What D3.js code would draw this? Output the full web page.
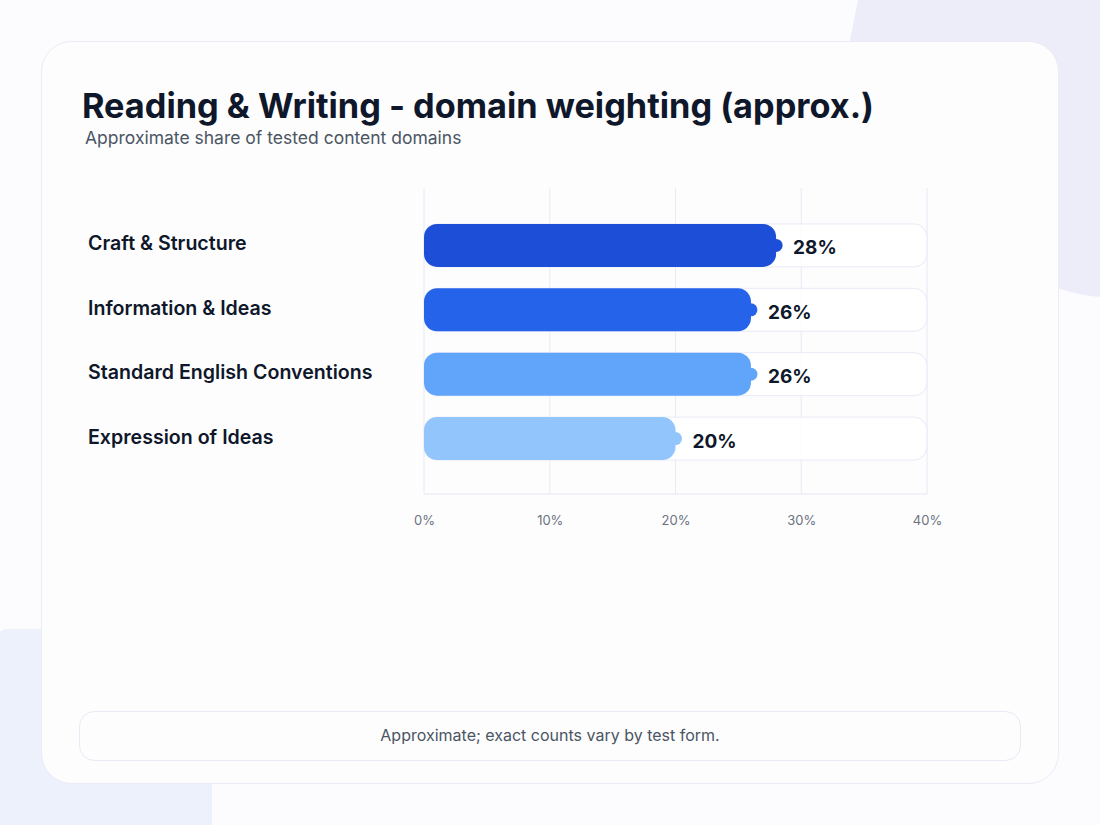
<!DOCTYPE html>
<html><head><meta charset="utf-8">
<script src="https://cdn.jsdelivr.net/npm/d3@7/dist/d3.min.js"></script>
<style>html,body{margin:0;padding:0;background:#fcfcfe;}svg{display:block;font-family:Inter,"Noto Sans",sans-serif;}</style>
</head><body>
<svg id="c" width="1100" height="825"></svg>
<script>
const categories = ["Craft & Structure","Information & Ideas","Standard English Conventions","Expression of Ideas"];
const values = [28, 26, 26, 20];
const colors = ["#1d4ed8","#2563eb","#60a5fa","#93c5fd"];
const tickValues = [0,10,20,30,40];
const title = "Reading & Writing - domain weighting (approx.)";
const subtitle = "Approximate share of tested content domains";
const footnote = "Approximate; exact counts vary by test form.";

const svg = d3.select("#c");
// background decorations
svg.append("rect").attr("width",1100).attr("height",825).attr("fill","#fcfcfe");
svg.append("path").attr("d","M858,0 L1100,0 L1100,297 C1010,290 880,200 850,40 Z").attr("fill","#ededfa");
svg.append("path").attr("d","M0,632 Q2,629 10,629 L212,629 L212,825 L0,825 Z").attr("fill","#edf1fb");
// card
svg.append("rect").attr("x",41.5).attr("y",41.5).attr("width",1017).attr("height",742).attr("rx",30)
  .attr("fill","#fdfdfe").attr("stroke","#e9ebf7");

svg.append("text").attr("x",82).attr("y",118).attr("font-size",34.3).attr("font-weight",700)
  .attr("fill","#0f172a").text(title);
svg.append("text").attr("x",85).attr("y",144).attr("font-size",17.5).attr("fill","#4b5563").text(subtitle);

const x = d3.scaleLinear().domain([0,40]).range([424,927]);
const y = d3.scaleBand().domain(categories).range([213,471]).paddingInner(0.333).paddingOuter(0.17);

const g = svg.append("g");
// grid
g.selectAll("line.grid").data(tickValues).join("line")
  .attr("x1",d=>x(d)).attr("x2",d=>x(d)).attr("y1",188).attr("y2",494)
  .attr("stroke","#e8eaf6").attr("stroke-width",1);
g.append("line").attr("x1",x(0)).attr("x2",x(40)).attr("y1",494).attr("y2",494).attr("stroke","#e3e6f3");

const axis = d3.axisBottom(x).tickValues(tickValues).tickFormat(d=>d+"%").tickSize(0);
const ax = svg.append("g").attr("transform","translate(0,494)").call(axis);
ax.select(".domain").remove();
ax.selectAll("text").attr("font-size",13).attr("fill","#6b7280").attr("y",0).attr("dy",0)
  .attr("transform","translate(0,31)").attr("font-family","Inter,sans-serif");

// tracks
g.selectAll("rect.track").data(categories).join("rect")
  .attr("x",x(0)).attr("y",d=>y(d)).attr("width",x(40)-x(0)).attr("height",y.bandwidth())
  .attr("rx",13).attr("fill","rgba(255,255,255,0.85)").attr("stroke","#e8eaf6");
// bars
g.selectAll("rect.bar").data(values).join("rect")
  .attr("x",x(0)).attr("y",(d,i)=>y(categories[i])).attr("width",d=>x(d)-x(0)).attr("height",y.bandwidth())
  .attr("rx",13).attr("fill",(d,i)=>colors[i]);
g.selectAll("circle.cap").data(values).join("circle")
  .attr("cx",d=>x(d)).attr("cy",(d,i)=>y(categories[i])+y.bandwidth()/2).attr("r",6.5)
  .attr("fill",(d,i)=>colors[i]);
g.selectAll("text.val").data(values).join("text")
  .attr("x",d=>x(d)+17).attr("y",(d,i)=>y(categories[i])+y.bandwidth()/2+9)
  .attr("font-size",19).attr("font-weight",700).attr("fill","#0f172a").text(d=>d+"%");
g.selectAll("text.cat").data(categories).join("text")
  .attr("x",88).attr("y",d=>y(d)+y.bandwidth()/2+5)
  .attr("font-size",19.6).attr("font-weight",600).attr("fill","#0f172a").text(d=>d);

// footer
svg.append("rect").attr("x",79.5).attr("y",711.5).attr("width",941).attr("height",49).attr("rx",15)
  .attr("fill","#fdfdfe").attr("stroke","#e8eaf6");
svg.append("text").attr("x",550).attr("y",741).attr("text-anchor","middle").attr("font-size",16)
  .attr("fill","#4b5563").text(footnote);
</script>
</body></html>
